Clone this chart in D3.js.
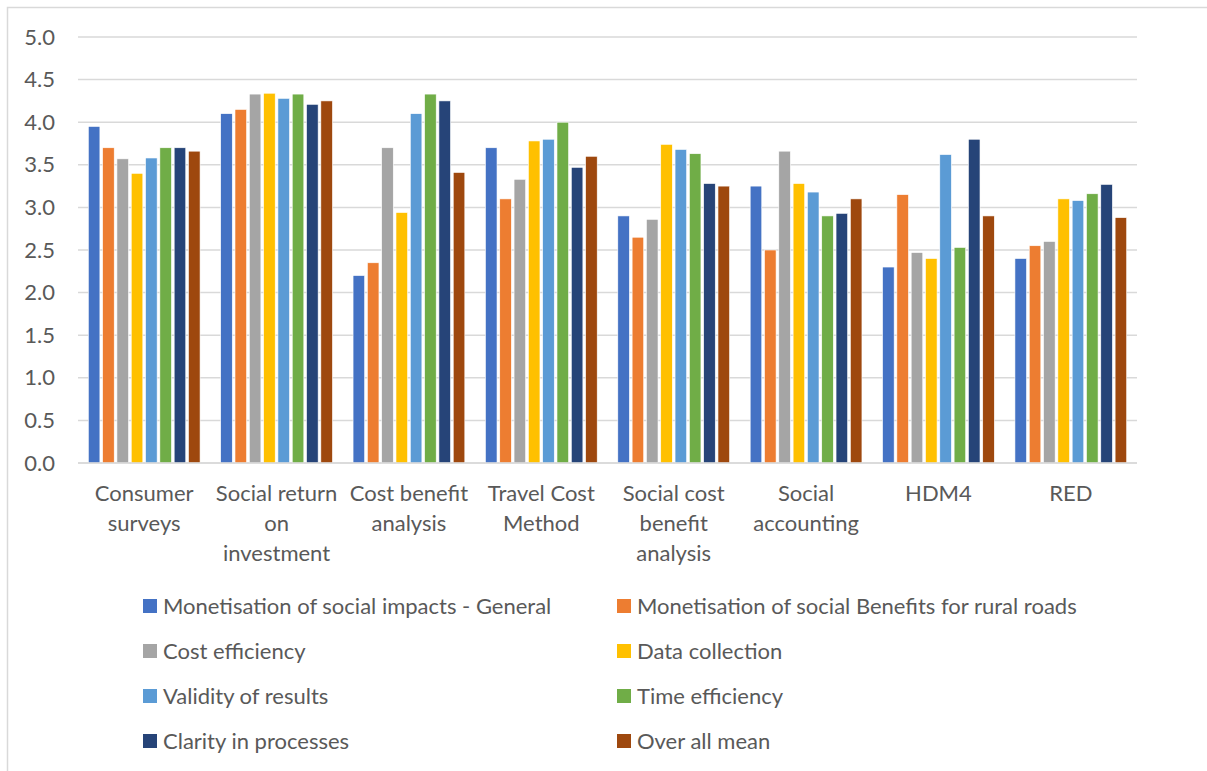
<!DOCTYPE html>
<html>
<head>
<meta charset="utf-8">
<script src="https://cdn.jsdelivr.net/npm/d3@7"></script>
<style>
  html, body { margin: 0; padding: 0; background: #fff; }
  svg { display: block; }
  text { font-family: Lato, "Open Sans", sans-serif; fill: #595959; }
</style>
</head>
<body>
<svg id="chart" width="1207" height="771"></svg>
<script>
// Methods assessed
const categories = [
  "Consumer surveys", "Social return on investment", "Cost benefit analysis",
  "Travel Cost Method", "Social cost benefit analysis", "Social accounting",
  "HDM4", "RED"
];
// Wrapped axis labels for each method
const categoryLines = [
  ["Consumer", "surveys"], ["Social return", "on", "investment"], ["Cost benefit", "analysis"],
  ["Travel Cost", "Method"], ["Social cost", "benefit", "analysis"], ["Social", "accounting"],
  ["HDM4"], ["RED"]
];

// Criteria (series)
const seriesNames = [
  "Monetisation of social impacts - General",
  "Monetisation of social Benefits for rural roads",
  "Cost efficiency",
  "Data collection",
  "Validity of results",
  "Time efficiency",
  "Clarity in processes",
  "Over all mean"
];

// Mean scores per criterion, one value per method
const generalImpacts  = [3.95, 4.10, 2.20, 3.70, 2.90, 3.25, 2.30, 2.40];
const ruralBenefits   = [3.70, 4.15, 2.35, 3.10, 2.65, 2.50, 3.15, 2.55];
const costEfficiency  = [3.57, 4.33, 3.70, 3.33, 2.86, 3.66, 2.47, 2.60];
const dataCollection  = [3.40, 4.34, 2.94, 3.78, 3.74, 3.28, 2.40, 3.10];
const validity        = [3.58, 4.28, 4.10, 3.80, 3.68, 3.18, 3.62, 3.08];
const timeEfficiency  = [3.70, 4.33, 4.33, 4.00, 3.63, 2.90, 2.53, 3.16];
const clarity         = [3.70, 4.21, 4.25, 3.47, 3.28, 2.93, 3.80, 3.27];
const overallMean     = [3.66, 4.25, 3.41, 3.60, 3.25, 3.10, 2.90, 2.88];

const seriesValues = [generalImpacts, ruralBenefits, costEfficiency, dataCollection,
                      validity, timeEfficiency, clarity, overallMean];

const yTicks = [0, 0.5, 1, 1.5, 2, 2.5, 3, 3.5, 4, 4.5, 5];

const colors = ["#4472C4", "#ED7D31", "#A5A5A5", "#FFC000", "#5B9BD5", "#70AD47", "#264478", "#9E480E"];

const FONT_SIZE = 22;

const svg = d3.select("#chart");

// outer frame
svg.append("rect")
  .attr("x", 7.5).attr("y", 7.5).attr("width", 1210).attr("height", 780)
  .attr("fill", "none").attr("stroke", "#d9d9d9").attr("stroke-width", 1.5);

const plot = { left: 78, right: 1137, top: 37, bottom: 463 };

const y = d3.scaleLinear().domain([0, 5]).range([plot.bottom, plot.top]);
const x0 = d3.scaleBand().domain(categories).range([plot.left, plot.right]).padding(0);
const x1 = d3.scaleBand().domain(seriesNames)
  .range([0, x0.bandwidth()])
  .paddingInner(0.19)
  .paddingOuter(0.72);

// gridlines
svg.append("g")
  .selectAll("line")
  .data(yTicks)
  .join("line")
  .attr("x1", plot.left).attr("x2", plot.right)
  .attr("y1", d => y(d)).attr("y2", d => y(d))
  .attr("stroke", "#d9d9d9").attr("stroke-width", 1.5);

// y axis labels
const yAxis = d3.axisLeft(y).tickValues(yTicks).tickFormat(d3.format(".1f")).tickSize(0).tickPadding(0);
svg.append("g")
  .attr("transform", `translate(55,0)`)
  .call(yAxis)
  .call(g => g.select(".domain").remove())
  .selectAll("text")
  .attr("font-size", FONT_SIZE)
  .attr("font-family", "Lato, sans-serif")
  .attr("fill", "#595959");

// bars
const groups = svg.append("g")
  .selectAll("g")
  .data(categories)
  .join("g")
  .attr("transform", d => `translate(${x0(d)},0)`);

groups.selectAll("rect")
  .data((c, ci) => seriesNames.map((s, si) => ({ s, si, v: seriesValues[si][ci] })))
  .join("rect")
  .attr("x", d => x1(d.s))
  .attr("width", x1.bandwidth())
  .attr("y", d => y(d.v))
  .attr("height", d => y(0) - y(d.v))
  .attr("fill", d => colors[d.si])
  .attr("stroke", "#fff")
  .attr("stroke-width", 0.6);

// baseline
svg.append("line")
  .attr("x1", plot.left).attr("x2", plot.right)
  .attr("y1", y(0)).attr("y2", y(0))
  .attr("stroke", "#d9d9d9").attr("stroke-width", 1.5);

// category labels
const xLabels = svg.append("g");
categories.forEach((c, i) => {
  const cx = x0(c) + x0.bandwidth() / 2;
  const t = xLabels.append("text")
    .attr("text-anchor", "middle")
    .attr("font-size", FONT_SIZE);
  categoryLines[i].forEach((line, li) => {
    t.append("tspan")
      .attr("x", cx)
      .attr("y", 501 + li * 30)
      .text(line);
  });
});

// legend: two columns, four rows
const legend = svg.append("g");
const colX = [143, 617];
const rowY = [606, 651, 696, 741];
seriesNames.forEach((name, i) => {
  const cx = colX[i % 2], cy = rowY[Math.floor(i / 2)];
  legend.append("rect")
    .attr("x", cx).attr("y", cy - 7)
    .attr("width", 14).attr("height", 14)
    .attr("fill", colors[i]);
  legend.append("text")
    .attr("x", cx + 20)
    .attr("y", cy + 8)
    .attr("font-size", FONT_SIZE)
    .text(name);
});
</script>
</body>
</html>
